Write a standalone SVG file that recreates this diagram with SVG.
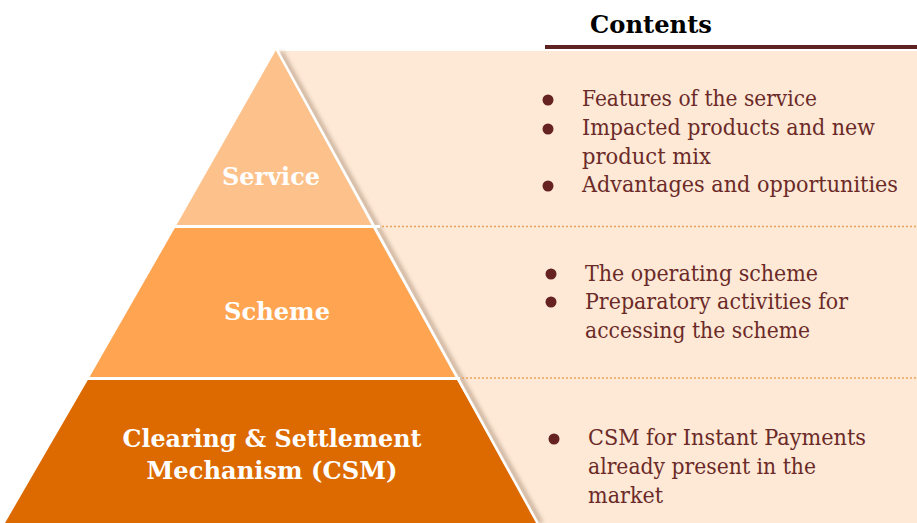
<svg xmlns="http://www.w3.org/2000/svg" width="917" height="523" viewBox="0 0 917 523">
<style>
.lbl{font-family:"DejaVu Serif","Liberation Serif",serif;font-weight:bold;fill:#FFFFFF;font-size:24px;text-anchor:middle}
.item{font-family:"DejaVu Serif","Liberation Serif",serif;fill:#6B2A28;font-size:21.5px}
.dot{fill:#652221}
.sep{stroke:#EFA25A;stroke-width:1.5;stroke-dasharray:2 2;fill:none}
</style>
<defs>
<filter id="sh" x="-20%" y="-20%" width="140%" height="140%"><feGaussianBlur stdDeviation="2.2"/></filter>
</defs>
<rect width="917" height="523" fill="#FFFFFF"/>
<polygon points="278,51 917,51 917,523 537,523" fill="#FDE9D6"/>
<line x1="281" y1="52" x2="541" y2="523" stroke="#7A5A40" stroke-width="4" opacity="0.45" filter="url(#sh)"/>
<g id="header">
<text x="651" y="33" font-family="DejaVu Serif, Liberation Serif, serif" font-weight="bold" font-size="25" fill="#000000" text-anchor="middle" textLength="122" lengthAdjust="spacingAndGlyphs">Contents</text>
<rect x="545" y="45" width="372" height="4" fill="#5E2320"/>
</g>
<g id="connectors">
<line class="sep" x1="374" y1="226.5" x2="917" y2="226.5"/>
<line class="sep" x1="458" y1="378" x2="917" y2="378"/>
</g>
<g id="service">
<polygon points="276,50 372,226 176,226" fill="#FDC28B"/>
<text class="lbl" x="271" y="185" textLength="98" lengthAdjust="spacingAndGlyphs">Service</text>
</g>
<g id="scheme">
<polygon points="176,226 372,226 456,378 89,378" fill="#FFA552"/>
<text class="lbl" x="277" y="320" textLength="106" lengthAdjust="spacingAndGlyphs">Scheme</text>
</g>
<g id="csm">
<polygon points="89,378 456,378 537,523 5,523" fill="#DC6A00"/>
<text class="lbl" x="272" y="447" textLength="299" lengthAdjust="spacingAndGlyphs">Clearing &amp; Settlement</text>
<text class="lbl" x="272" y="479" textLength="251" lengthAdjust="spacingAndGlyphs">Mechanism (CSM)</text>
</g>
<line x1="0" y1="226.5" x2="380" y2="226.5" stroke="#FFFFFF" stroke-width="3"/>
<line x1="0" y1="378.5" x2="460" y2="378.5" stroke="#FFFFFF" stroke-width="3"/>
<line x1="277" y1="50" x2="537.5" y2="523" stroke="#FFFFFF" stroke-width="2.5"/>
<g id="contents-service">
<circle class="dot" cx="548" cy="100" r="5.5"/>
<circle class="dot" cx="548" cy="129" r="5.5"/>
<circle class="dot" cx="548" cy="186" r="5.5"/>
<text class="item" x="582" y="106" textLength="235" lengthAdjust="spacingAndGlyphs">Features of the service</text>
<text class="item" x="582" y="135" textLength="293" lengthAdjust="spacingAndGlyphs">Impacted products and new</text>
<text class="item" x="582" y="164" textLength="129" lengthAdjust="spacingAndGlyphs">product mix</text>
<text class="item" x="582" y="192" textLength="316" lengthAdjust="spacingAndGlyphs">Advantages and opportunities</text>
</g>
<g id="contents-scheme">
<circle class="dot" cx="551" cy="274" r="5.5"/>
<circle class="dot" cx="551" cy="302" r="5.5"/>
<text class="item" x="585" y="281" textLength="233" lengthAdjust="spacingAndGlyphs">The operating scheme</text>
<text class="item" x="585" y="309" textLength="263" lengthAdjust="spacingAndGlyphs">Preparatory activities for</text>
<text class="item" x="585" y="338" textLength="225" lengthAdjust="spacingAndGlyphs">accessing the scheme</text>
</g>
<g id="contents-csm">
<circle class="dot" cx="554" cy="439" r="5.5"/>
<text class="item" x="588" y="445" textLength="278" lengthAdjust="spacingAndGlyphs">CSM for Instant Payments</text>
<text class="item" x="588" y="474" textLength="228" lengthAdjust="spacingAndGlyphs">already present in the</text>
<text class="item" x="588" y="503" textLength="75" lengthAdjust="spacingAndGlyphs">market</text>
</g>
</svg>
